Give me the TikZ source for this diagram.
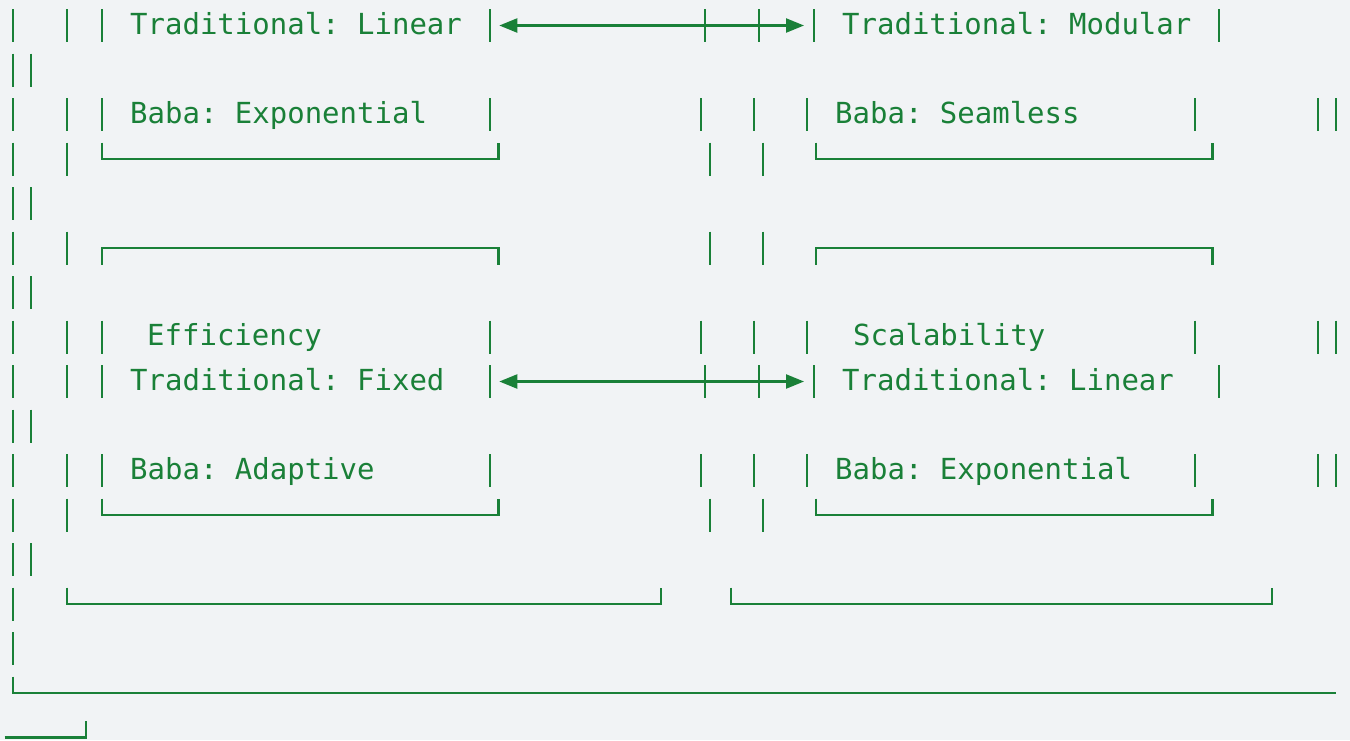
\documentclass[tikz,border=0pt]{standalone}
\usepackage{fontspec}
\newfontfamily\codefont{DejaVu Sans Mono}
\usetikzlibrary{arrows.meta}
\definecolor{codegreen}{RGB}{26,128,56}
\definecolor{codebg}{RGB}{241,243,245}

% one vertical stroke of a text row, x and row centre
\newcommand{\pipe}[2]{\draw[wire] (#1,#2-16.5) -- (#1,#2+16.5);}
\newcommand{\lowbox}[3]{\draw[wire] (#1,#3-16.5) |- (#2,#3) -- (#2,#3-16.5);}
\newcommand{\highbox}[3]{\draw[wire] (#1,#3+16.5) |- (#2,#3) -- (#2,#3+16.5);}

\begin{document}
\begin{tikzpicture}[x=1pt, y=-1pt,
    wire/.style={codegreen, line width=2.3pt},
    link/.style={wire, {Triangle[length=18pt,width=14pt]}-{Triangle[length=18pt,width=14pt]}},
    lbl/.style={anchor=base west, inner sep=0pt, text=codegreen, font=\codefont\fontsize{29}{35}\selectfont\frenchspacing}]
    \fill[codebg] (0,0) rectangle (1350,740);
    \useasboundingbox (0,0) rectangle (1350,740);

    % content rows, left column
    \foreach \y in {25.5,114.5,337,381.5,470.5}
        \foreach \x in {13,67,102,490} {\pipe{\x}{\y}}
    % content rows, right column
    \foreach \y in {25.5,381.5}
        \foreach \x in {705,759,814,1219} {\pipe{\x}{\y}}
    \foreach \y in {114.5,337,470.5}
        \foreach \x in {701,754,807,1195,1318,1336} {\pipe{\x}{\y}}
    \foreach \y in {159,248,515}
        \foreach \x in {13,67,710,763} {\pipe{\x}{\y}}
    \foreach \y in {70,203.5,292.5,426,559.5}
        \foreach \x in {13,31} {\pipe{\x}{\y}}
    \pipe{13}{604}
    \pipe{13}{648.5}

    % box edges
    \lowbox{102}{498.5}{159}
    \lowbox{816}{1212.5}{159}
    \highbox{102}{498.5}{248}
    \highbox{816}{1212.5}{248}
    \lowbox{102}{498.5}{515}
    \lowbox{816}{1212.5}{515}
    \lowbox{67}{661}{604}
    \lowbox{731}{1272}{604}
    \draw[wire] (13,676.5) |- (1336,693);
    \draw[wire] (4.5,737.5) -| (86,721);

    % labels
    \node[lbl] (tlinear) at (130,34) {Traditional: Linear};
    \node[lbl] (tmodular) at (842,34) {Traditional: Modular};
    \node[lbl] (bexpo) at (130,123) {Baba: Exponential};
    \node[lbl] (bseamless) at (835,123) {Baba: Seamless};
    \node[lbl] (efficiency) at (147,345.5) {Efficiency};
    \node[lbl] (scalability) at (853,345.5) {Scalability};
    \node[lbl] (tfixed) at (130,390) {Traditional: Fixed};
    \node[lbl] (tlinear2) at (842,390) {Traditional: Linear};
    \node[lbl] (badaptive) at (130,479) {Baba: Adaptive};
    \node[lbl] (bexpo2) at (835,479) {Baba: Exponential};

    % arrows between the columns
    \coordinate (top-l) at (499.3,25.5);
    \coordinate (top-r) at (804,25.5);
    \coordinate (mid-l) at (499.3,381.5);
    \coordinate (mid-r) at (804,381.5);
    \draw[link] (top-l) -- (top-r);
    \draw[link] (mid-l) -- (mid-r);
\end{tikzpicture}
\end{document}
